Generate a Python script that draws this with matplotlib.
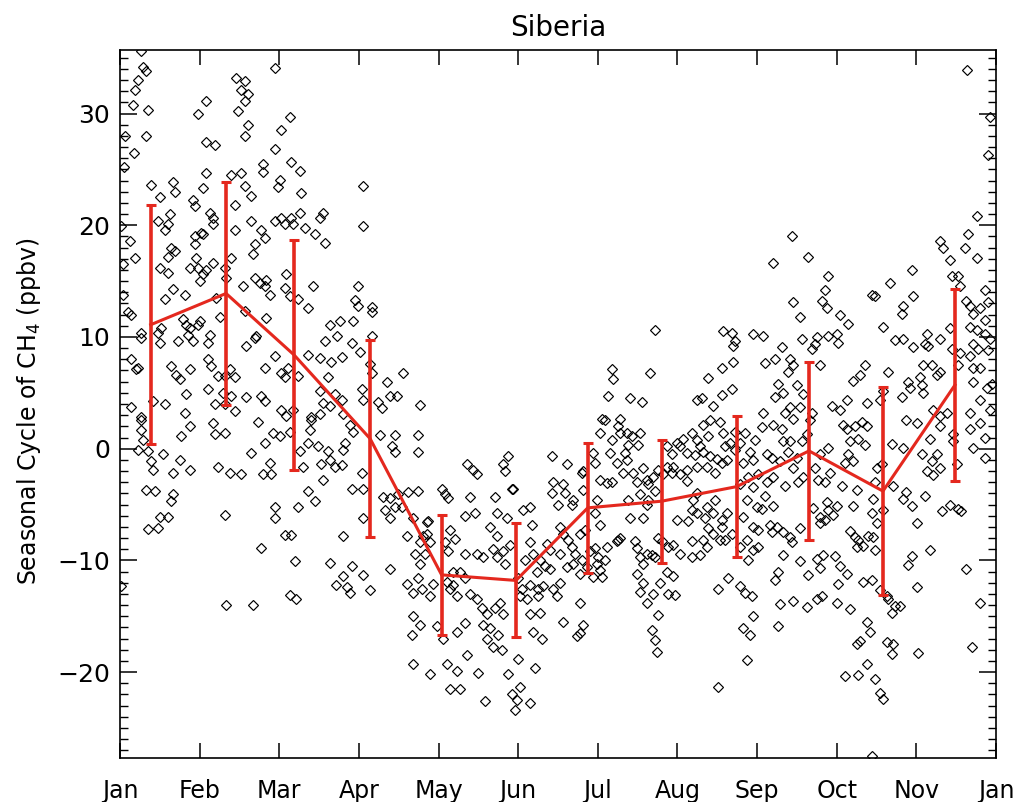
import numpy as np
import matplotlib
matplotlib.use("Agg")
import matplotlib.pyplot as plt
from matplotlib.ticker import MultipleLocator, FixedLocator

# Individual detrended observations: (day of year, CH4 anomaly in ppbv)
obs_jan_apr = [
    (8.6,35.6),(9.6,34.2),(10.8,33.8),(7.5,33.0),(6.2,32.1),(5.4,30.8),(11.7,30.3),(11.0,28.0),(2.0,28.0),(6.0,26.5),(1.5,25.2),
    (32.5,30.0),(36.0,31.1),(36.0,27.5),(39.4,27.2),
    (48.5,33.2),(52.0,32.9),(50.5,32.1),(53.3,31.8),(52.0,31.1),(49.2,30.2),(53.3,29.0),(52.0,28.0),
    (64.5,34.1),(70.7,29.7),(67.2,28.5),(64.5,26.8),(59.6,25.5),(59.6,24.8),(71.4,25.7),(74.9,24.9),(66.5,24.1),(65.8,23.4),(75.6,22.9),
    (36.0,24.7),(46.4,24.5),(50.5,24.7),(34.6,23.3),(52.0,23.5),(54.7,22.6),
    (13.0,23.6),(16.5,22.5),(22.0,23.9),(22.8,23.0),(30.4,22.3),(31.1,21.7),(47.8,21.8),(37.4,21.1),
    (20.7,21.0),(20.0,20.1),(15.8,20.4),(18.6,19.6),(38.8,20.7),(38.8,20.1),
    (54.7,20.4),(58.9,19.6),(56.1,18.3),(60.3,18.9),(55.4,17.4),
    (64.5,20.4),(67.2,20.7),(68.6,20.1),(71.4,20.7),(72.1,20.1),(74.9,21.1),(77.0,19.8),(81.1,19.2),(83.2,20.7),(84.6,21.1),(85.3,18.4),
    (47.8,19.6),(33.9,19.3),(34.6,19.2),(31.1,19.0),
    (0.5,19.9),(4.0,18.6),(6.1,17.1),(1.2,16.5),(1.2,13.8),
    (21.4,18.0),(22.8,17.7),(20.0,17.2),
    (31.1,18.3),(31.8,17.1),(29.0,16.2),(32.5,16.2),(34.6,15.6),(36.0,16.0),(33.2,15.0),(38.8,16.6),
    (43.6,16.2),(44.3,15.3),(46.4,17.1),(16.5,16.2),(20.0,15.7),
    (56.1,15.3),(58.2,14.8),(60.3,14.6),(61.0,15.1),(51.2,14.6),(62.4,13.8),
    (69.3,15.6),(68.6,14.4),(70.7,13.7),(74.2,13.4),(80.4,14.6),(78.3,12.6),
    (18.6,13.4),(22.1,14.3),(26.9,13.8),(40.1,13.5),(41.5,11.8),(52.0,12.3),(56.1,9.9),(61.0,11.7),
    (3.3,12.2),(4.7,12.0),(8.9,10.4),(8.9,9.9),(15.8,10.4),(16.5,9.5),(17.2,10.8),
    (24.2,9.6),(28.3,10.2),(29.0,10.8),(30.4,9.6),(32.5,11.1),(33.2,11.4),(26.2,11.6),(27.6,11.1),
    (36.7,9.5),(37.4,10.2),(52.6,9.2),(56.8,10.1),
    (64.5,8.3),(60.3,7.2),(67.2,6.8),(68.6,6.4),(70.0,7.2),(74.2,6.5),
    (78.3,8.4),(83.2,8.1),(85.3,9.6),(88.0,7.8),(86.7,6.4),(83.2,5.2),(84.6,4.1),(87.4,3.8),(89.5,4.9),
    (4.7,8.0),(6.8,7.1),(7.5,7.2),
    (21.4,7.4),(23.5,6.6),(24.9,6.2),(29.0,7.1),
    (36.7,8.0),(38.0,7.4),(40.8,6.5),(43.6,6.5),(45.7,7.1),(47.8,6.4),(42.9,5.0),
    (27.6,4.9),(36.7,5.3),(39.4,4.0),(43.6,4.0),(46.4,4.7),(47.8,3.4),
    (52.6,4.6),(58.9,4.7),(60.3,4.3),
    (13.8,4.3),(18.6,4.0),(4.7,3.7),(8.9,2.8),(26.9,3.2),
    (67.2,3.5),(69.3,2.9),(72.1,3.5),(79.7,2.8),(83.2,3.1),
    (8.9,2.6),(8.9,1.7),(9.6,0.8),(7.5,-0.1),(11.7,-0.2),
    (13.0,-1.1),(13.8,-1.9),(17.9,-0.5),
    (25.5,1.1),(29.0,2.0),(24.9,-1.0),(22.1,-2.2),(29.0,-1.9),
    (11.0,-3.7),(14.4,-3.8),(21.4,-4.7),(22.1,-4.1),(16.5,-6.1),(20.0,-6.1),(11.7,-7.2),(15.8,-7.1),
    (38.8,2.3),(39.4,1.3),(43.6,1.4),(40.8,-1.6),(45.7,-2.2),(50.5,-2.3),
    (43.6,-5.9),(44.3,-14.0),(55.4,-14.0),(0.3,-12.3),
    (57.5,2.4),(54.7,-0.4),(60.3,0.5),(63.8,1.4),(66.5,1.1),(62.4,-1.3),(59.6,-2.3),(63.0,-2.3),
    (64.5,-5.2),(64.5,-6.2),(68.6,-7.7),(71.4,-7.7),(58.9,-8.9),(72.8,-10.1),(70.7,-13.1),(73.5,-13.5),
    (70.7,1.5),(74.9,-0.2),(76.3,-1.6),(78.3,0.5),(79.7,2.6),(79.0,1.7),
    (78.3,-3.8),(81.1,-4.7),(74.2,-5.2),
    (82.5,0.2),(83.9,-1.4),(84.6,-2.8),(86.7,-0.2),(87.4,-1.0),(89.5,-1.6),
    (87.4,-10.2),(90.1,-12.2),
    (101.4,23.5),(101.4,19.9),
    (99.3,14.6),(97.9,13.3),(99.3,12.8),(104.9,12.7),(104.9,12.2),
    (91.7,11.4),(97.2,11.4),(87.5,11.1),(90.3,10.1),
    (96.5,9.5),(100.0,8.7),(104.9,10.1),
    (92.4,8.2),(104.2,7.6),(104.9,6.8),
    (111.1,6.0),(118.0,6.8),
    (100.7,5.3),(101.4,4.4),(107.6,4.2),(109.0,3.6),(112.5,4.7),(115.3,4.7),
    (125.0,3.9),(92.4,4.4),(93.0,3.1),(95.8,2.1),(97.2,1.5),
    (108.3,1.2),(114.6,1.2),(113.2,0.2),(114.6,-0.3),(124.3,1.2),(124.3,-0.3),
    (93.8,0.5),(93.0,-0.1),(92.4,-1.5),
    (100.7,-2.2),(96.5,-3.6),(101.4,-3.6),
    (101.4,-6.2),(93.0,-7.8),(96.5,-10.5),(93.0,-11.4),(94.4,-12.4),(95.8,-12.9),(104.2,-12.7),(101.4,-11.3),
    (112.5,-10.8),
    (109.7,-4.3),(112.5,-4.4),(110.4,-5.5),(116.0,-4.1),(114.6,-5.2),(112.5,-6.2),(117.4,-5.2),(120.1,-3.9),(124.3,-3.8),(122.2,-6.2),(119.4,-7.8),
]

obs_may_aug = [
    (126.4,-7.8),(127.8,-6.6),(125.0,-8.4),(129.2,-8.4),(122.9,-9.4),(125.0,-10.3),(127.1,-9.4),
    (119.4,-12.1),(124.3,-11.6),(125.7,-12.6),(129.2,-13.2),(130.5,-12.1),(122.2,-12.9),
    (144.4,-1.4),(147.2,-1.9),(148.6,-2.3),(159.7,-1.4),(161.8,-0.7),(160.4,-2.0),(163.9,-3.6),
    (134.0,-3.6),(136.8,-4.4),(135.4,-4.1),(145.8,-4.3),(143.8,-6.0),(147.9,-5.8),
    (156.3,-4.3),(157.0,-5.8),(163.2,-3.6),(161.1,-6.2),
    (128.5,-6.5),(127.8,-7.6),(137.5,-7.3),(135.4,-8.4),(139.6,-8.1),(136.8,-9.2),
    (143.8,-9.4),(148.6,-9.4),(151.4,-9.7),(154.2,-7.0),(157.0,-7.8),(155.5,-9.0),(159.7,-9.2),(162.5,-8.6),
    (168.0,-5.5),(170.8,-5.2),(171.5,-6.8),(170.8,-8.4),(172.2,-9.4),
    (138.9,-11.0),(141.7,-11.0),(138.9,-12.2),(140.3,-13.2),(143.8,-11.6),(145.8,-13.0),(136.1,-11.9),(137.5,-12.6),
    (148.6,-13.5),(150.7,-14.3),(152.8,-14.8),(156.3,-14.3),(158.3,-13.8),(159.7,-14.8),
    (122.2,-15.0),(125.0,-15.8),(121.5,-16.7),(131.9,-15.9),(134.7,-17.0),(140.3,-16.4),(143.8,-15.6),
    (151.4,-15.8),(154.2,-16.1),(152.8,-17.0),(157.6,-16.7),(155.5,-17.8),(159.0,-18.0),
    (166.7,-13.2),(169.5,-13.5),(170.8,-14.8),(174.3,-13.2),(172.2,-16.4),
    (122.2,-19.3),(129.2,-20.2),(136.1,-19.3),(140.3,-19.9),(144.4,-18.5),(149.3,-20.1),(137.5,-21.5),(141.7,-21.5),
    (166.0,-18.8),(172.9,-19.6),(161.8,-20.2),(166.7,-21.3),(163.2,-22.0),(165.3,-22.5),(152.1,-22.6),(170.8,-22.8),
    (164.6,-23.4),
    (173.6,-11.0),(170.8,-12.2),(174.3,-12.6),(168.8,-10.0),(166.0,-11.6),(167.4,-12.6),(160.4,-10.3),(156.9,-9.7),
    (222.9,10.6),(220.8,6.8),(203.5,4.7),(204.9,7.1),(205.6,6.2),(212.5,4.5),(217.4,4.2),
    (200.7,2.7),(202.1,2.6),(208.3,2.7),(207.6,2.0),(200.0,1.4),(204.9,0.8),(208.3,1.4),
    (211.1,1.4),(213.2,1.1),(211.8,0.3),(216.0,0.3),(216.7,1.4),
    (204.2,-0.4),(206.9,-1.3),(210.4,-0.4),(211.1,-1.0),(209.7,-2.2),
    (179.9,-0.7),(186.1,-1.4),(193.1,-2.0),(197.2,-0.4),(197.9,-1.3),(200.0,-2.8),(202.8,-3.1),(204.9,-3.0),
    (180.6,-3.0),(184.7,-3.2),(179.9,-4.0),(185.4,-4.0),(188.2,-5.0),(182.6,-5.0),(188.9,-4.6),
    (192.4,-2.2),(193.1,-3.7),(198.6,-4.6),(197.9,-5.8),
    (213.9,-2.2),(215.3,-3.0),(218.1,-1.7),(219.4,-2.8),(220.1,-3.2),(222.2,-2.5),(224.3,-1.9),(226.4,-2.3),(222.9,-3.8),(220.1,-4.6),
    (212.5,-6.2),(218.1,-6.2),(219.4,-5.0),(216.7,-4.1),(211.8,-4.6),
    (200.0,-6.8),(202.8,-8.8),(207.6,-8.2),(208.3,-8.0),(206.9,-8.3),
    (214.6,-8.3),(215.3,-8.9),(216.7,-9.7),(218.1,-10.3),(219.4,-9.4),(221.5,-9.5),(222.9,-9.7),(215.3,-11.2),(218.1,-12.0),(216.7,-12.8),
    (224.3,-8.0),(225.7,-8.3),(228.5,-8.8),(230.6,-8.6),(233.3,-9.4),(238.2,-9.7),(241.7,-9.5),(238.2,-8.3),(243.1,-8.2),(244.4,-8.8),
    (231.9,-6.4),(236.8,-6.5),(240.3,-5.8),(238.2,-5.5),(243.8,-6.2),
    (227.8,-11.0),(230.6,-11.4),(225.0,-12.0),(231.3,-13.1),(228.5,-13.0),(222.2,-13.0),(224.3,-14.9),(219.4,-13.8),(221.5,-16.2),(222.9,-17.1),(223.6,-18.2),
    (175.0,-10.0),(177.1,-10.5),(179.2,-10.8),(176.4,-12.3),(180.6,-12.6),(183.3,-12.0),(181.9,-13.2),(175.0,-14.7),(175.7,-17.0),
    (184.7,-15.5),(191.7,-13.8),(193.1,-15.8),(190.3,-16.8),(191.7,-16.5),
    (183.3,-7.0),(184.7,-7.6),(186.8,-8.2),(188.2,-8.8),(189.6,-9.4),(192.4,-10.0),(188.9,-10.3),(186.1,-10.6),(191.7,-11.2),(194.4,-10.6),(183.3,-9.4),(179.2,-9.1),(177.8,-8.5),
    (197.9,-8.9),(199.3,-9.7),(197.2,-11.5),(200.7,-11.5),(202.1,-10.0),(200.0,-10.9),
    (193.8,-7.3),(191.7,-7.6),(195.8,-9.2),(198.6,-10.3),
    (240.3,4.4),(242.4,4.5),(247.2,3.8),(245.8,2.6),(243.1,2.1),(250.0,2.4),(245.1,1.1),(251.4,1.4),
    (238.2,1.4),(240.3,0.8),(241.7,0.2),(234.7,0.9),(233.3,0.2),(236.1,-0.4),(239.6,-0.6),(243.1,-0.3),(245.8,-0.7),(248.6,-0.9),(250.7,-1.3),(252.8,-1.0),(244.4,-1.6),(247.9,-2.2),(240.3,-1.6),(236.1,-1.9),
    (227.8,0.2),(229.9,-0.5),(231.9,0.5),(230.6,-1.6),(233.3,-2.3),(236.1,-2.9),(238.9,-4.6),(240.3,-4.0),(229.9,-2.2),(227.8,-1.6),
]

obs_sep_dec = [
    (245.1,-7.1),(247.2,-7.6),(250.0,-8.2),(252.1,-8.2),(254.9,-7.6),(250.7,-7.0),
    (244.4,-5.2),(247.2,-5.8),(247.9,-4.6),(250.7,-6.4),(252.8,-5.8),
    (253.5,-11.6),(249.3,-12.6),(258.3,-12.3),(260.4,-12.9),(263.2,-13.2),(263.9,-15.0),(259.7,-16.1),(262.5,-16.7),(261.1,-18.9),(249.3,-21.3),
    (256.3,1.5),(254.2,0.5),(252.1,0.2),(256.3,-0.1),
    (251.4,10.5),(254.9,10.4),(256.3,9.6),(255.6,9.2),(263.9,10.3),
    (255.6,7.8),(250.7,7.2),(245.1,6.3),(254.9,5.3),(250.7,4.8),
    (258.3,0.5),(260.4,1.4),(262.5,-0.3),(264.6,0.8),(259.7,-1.3),(263.9,-1.0),(261.8,-2.5),(266.0,-2.3),(258.3,-3.2),(263.9,-3.4),
    (261.1,-4.6),(265.3,-5.2),(259.7,-6.1),(263.9,-7.0),(261.1,-8.2),(258.3,-8.8),(261.8,-10.0),(266.0,-7.3),(266.0,-8.8),(263.9,-9.1),
    (279.8,19.0),(286.8,17.2),(272.2,16.6),(295.1,15.5),(293.7,14.2),(292.4,13.2),(294.4,12.6),(280.5,13.1),(283.3,11.8),(300.0,12.0),(303.4,11.2),
    (268.0,10.1),(284.0,9.8),(290.3,10.0),(295.1,10.1),(298.6,10.3),(299.3,9.5),(275.7,9.1),(288.2,8.9),(289.6,9.4),
    (268.7,7.7),(272.9,8.0),(279.2,8.0),(280.5,7.5),(291.7,7.5),(278.5,6.9),
    (274.3,5.8),(276.4,5.0),(281.9,5.7),(272.9,4.6),(284.7,4.9),
    (268.0,3.2),(272.2,2.1),(267.3,1.9),(277.1,3.2),(279.2,3.7),(280.5,2.7),(275.7,1.8),(283.3,3.7),(279.2,0.7),(276.4,0.7),
    (284.0,0.7),(286.1,1.3),(287.5,2.6),(288.2,3.2),
    (269.4,-0.5),(271.5,-0.8),(275.0,-1.1),(278.5,-0.3),(281.9,-0.8),(280.5,-1.7),
    (272.2,-2.5),(269.4,-3.0),(277.1,-3.3),(282.6,-3.0),(284.7,-2.5),
    (268.7,-4.2),(267.3,-5.4),(272.2,-5.1),(270.8,-6.8),(271.5,-7.5),(273.6,-7.0),(276.4,-7.5),(279.2,-7.9),(279.8,-8.4),(283.3,-7.1),
    (276.4,-9.5),(283.3,-10.1),(286.8,-11.3),(291.7,-10.7),(274.3,-11.0),(272.9,-11.8),
    (275.0,-13.9),(280.5,-13.6),(286.1,-14.2),(290.3,-13.5),(292.4,-13.2),(298.6,-13.8),(304.2,-14.4),(274.3,-15.9),
    (289.6,-1.7),(291.7,-0.5),(295.1,0.1),(295.8,-2.2),(290.9,-2.8),(293.7,-3.0),(288.8,-5.3),(291.7,-6.1),(293.7,-6.4),(295.1,-5.5),(297.2,-5.9),(298.6,-5.1),(294.4,-4.8),(291.7,-6.7),
    (293.0,-9.5),(290.3,-9.9),(297.9,-9.6),(300.0,-10.5),(302.8,-11.2),(299.3,-12.1),
    (300.7,-3.3),(305.5,-5.1),(306.9,-3.7),(302.1,-1.3),(303.4,-0.5),(305.5,-1.1),
    (296.5,3.8),(300.0,3.5),(302.8,4.4),(305.5,6.1),(308.3,6.6),(310.4,7.5),(301.4,2.1),(302.8,1.8),(306.2,2.0),(309.0,2.4),(311.1,2.0),(307.6,0.9),(310.4,0.3),(304.2,0.7),
    (311.1,4.1),(316.7,4.4),(318.0,5.2),(320.1,6.9),(315.3,-1.7),(317.4,-1.4),(314.6,-3.0),
    (304.2,-7.4),(306.2,-7.9),(307.6,-8.2),(306.9,-8.8),(313.9,-7.9),(311.8,-7.8),(309.7,-8.7),(314.6,-9.1),
    (313.2,-5.8),(313.9,-4.5),(315.3,-6.7),(318.0,-5.5),
    (309.7,-11.9),(313.2,-11.8),(316.7,-12.7),(319.4,-13.2),(320.1,-13.5),(322.9,-14.1),(321.5,-14.7),(325.0,-14.1),
    (311.1,-15.5),(312.5,-16.4),(308.3,-17.2),(306.9,-17.5),(319.4,-17.3),(322.2,-17.5),(321.5,-18.4),
    (302.1,-20.4),(307.6,-20.3),(311.1,-19.3),(314.6,-20.6),(316.7,-21.9),(318.0,-22.4),
    (313.2,-27.5),
    (313.2,13.8),(314.6,13.7),(320.8,14.8),(318.0,10.9),(329.9,16.0),(330.5,13.7),(325.7,12.1),(326.4,12.8),
    (322.9,9.7),(326.4,9.8),(330.5,9.1),(335.4,9.4),(336.8,9.2),(336.1,10.3),(341.6,9.8),(345.8,10.8),(346.5,8.9),
    (325.7,4.6),(328.4,6.0),(329.2,5.4),(333.3,6.4),(334.0,5.7),(334.7,5.0),(338.2,7.5),(340.3,6.6),(334.7,7.5),(341.6,6.9),(349.3,7.5),(350.0,8.6),(355.5,7.2),(354.1,8.3),
    (321.5,0.4),(326.4,0.1),(327.7,2.6),(331.9,2.3),(334.0,-0.5),(337.5,0.9),(338.8,3.5),(341.6,2.0),(341.6,2.9),(340.3,-0.5),(338.2,-1.1),(344.4,3.2),(347.2,1.3),(347.2,0.7),(348.6,-1.4),
    (322.2,-3.3),(327.7,-3.9),(326.4,-4.5),(329.9,-5.1),(331.9,-6.7),(335.4,-4.2),(338.8,-2.4),(336.1,-2.0),(341.6,-1.7),(342.3,-5.6),(345.8,-5.0),(349.3,-5.4),(350.6,-5.6),
    (337.5,-9.1),(329.9,-9.6),(328.4,-10.4),(331.9,-12.4),(332.6,-18.3),
    (352.7,-10.8),(358.3,-13.8),(354.8,-17.8),
    (341.6,18.6),(343.0,18.0),(345.8,16.9),(346.5,15.5),(349.3,15.5),(352.1,18.0),(353.4,19.2),(356.9,17.1),(360.4,14.2),(350.0,14.6),
    (352.7,13.2),(354.1,12.8),(355.5,12.1),(358.3,12.6),(360.4,11.5),(361.8,13.1),(356.9,10.6),(360.4,10.3),(362.5,9.8),(354.1,10.9),
    (355.5,9.4),(357.6,8.9),(361.8,8.8),(358.3,7.2),(355.5,6.0),(361.1,5.4),(363.2,5.8),(358.3,4.4),(362.5,3.5),(354.1,3.2),
    (354.1,1.8),(358.3,2.3),(360.4,1.0),(355.5,0.1),(360.4,-0.8),
    (352.8,33.9),(362.5,29.7),(361.8,26.3),(357.0,20.8),
]

# Monthly means and standard deviations
month_day = [12.8, 44.2, 72.5, 104.2, 134.0, 165.0, 194.9, 225.8, 256.9, 287.1, 317.9, 347.9]
month_mean = [11.1, 13.9, 8.4, 0.9, -11.3, -11.8, -5.3, -4.7, -3.4, -0.2, -3.8, 5.7]
month_sd = [10.7, 10.0, 10.3, 8.8, 5.4, 5.1, 5.8, 5.5, 6.3, 8.0, 9.3, 8.6]

tick_labels = ["Jan", "Feb", "Mar", "Apr", "May", "Jun", "Jul", "Aug", "Sep", "Oct", "Nov", "Jan"]

obs = np.array(obs_jan_apr + obs_may_aug + obs_sep_dec)

fig = plt.figure(figsize=(10.17, 8.02), dpi=100)
ax = fig.add_axes([120 / 1017, 44 / 802, 876 / 1017, 708 / 802])

ax.plot(obs[:, 0], obs[:, 1], linestyle="none", marker="D", markersize=5.1,
        markerfacecolor="none", markeredgecolor="black", markeredgewidth=0.85,
        zorder=2)

red = "#e4281e"
ax.errorbar(month_day, month_mean, yerr=month_sd, color=red, linewidth=2.2,
            elinewidth=2.6, capsize=3.5, capthick=2.2, zorder=3)

ax.set_xlim(0, 365)
ax.set_ylim(-27.7, 35.7)

ax.xaxis.set_major_locator(FixedLocator(np.linspace(0, 365, 12)))
ax.set_xticklabels(tick_labels)
ax.yaxis.set_major_locator(MultipleLocator(10))
ax.yaxis.set_minor_locator(MultipleLocator(1))

ax.tick_params(axis="x", which="major", direction="in", length=11, width=1.1,
               top=True, bottom=True, labelsize=17, pad=15)
ax.tick_params(axis="y", which="major", direction="in", length=12, width=1.1,
               left=True, right=True, labelsize=18, pad=7)
ax.tick_params(axis="y", which="minor", direction="in", length=6, width=1.0,
               left=True, right=True)
for s in ax.spines.values():
    s.set_linewidth(1.2)

ax.set_title("Siberia", fontsize=20, pad=10)
ax.set_ylabel("Seasonal Cycle of CH$_4$ (ppbv)", fontsize=17)
ax.yaxis.set_label_coords(-0.088, 0.49)

fig.savefig("out.png", dpi=100)
